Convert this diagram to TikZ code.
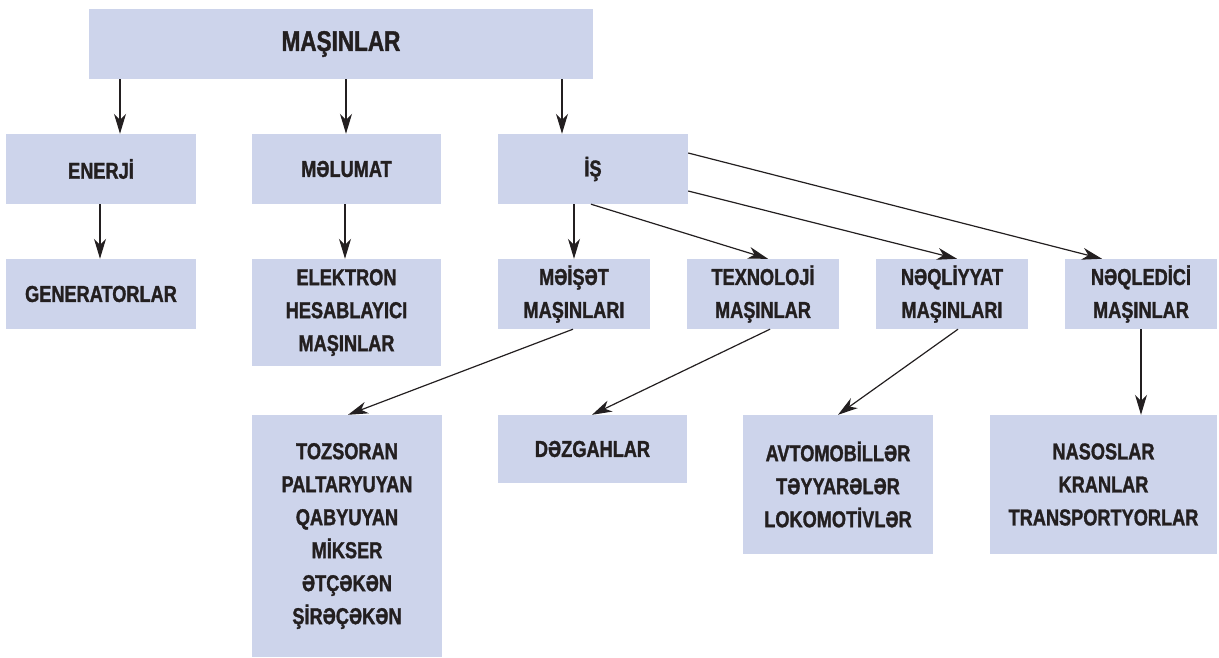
\documentclass[tikz,border=0pt]{standalone}
\usepackage{fontspec}
\setmainfont{Liberation Sans}[FakeStretch=0.79]
\newfontfamily\heavyfont{Liberation Sans}[FakeStretch=0.79,FakeBold=1.3]
\usetikzlibrary{arrows.meta}
\definecolor{boxfill}{RGB}{205,212,235}
\definecolor{ink}{RGB}{35,31,32}
\begin{document}
\begin{tikzpicture}[x=1pt,y=-1pt,
  box/.style={fill=boxfill,draw=none,inner sep=0pt,align=center,text=ink,
    font=\heavyfont\bfseries\fontsize{23}{33}\selectfont},
  arr/.style={draw=ink,line width=1.2pt,-{Stealth[length=20pt,width=12pt,inset=6pt]}}]
\useasboundingbox (0,0) rectangle (1219,658);
\node[box,minimum width=504pt,minimum height=70pt,font=\heavyfont\bfseries\fontsize{28.5}{33}\selectfont] (top) at (341,44) {MAŞINLAR};
\node[box,minimum width=190pt,minimum height=70pt] (ener) at (101,169) {ENERJİ};
\node[box,minimum width=189pt,minimum height=70pt] (melu) at (346.5,169) {MƏLUMAT};
\node[box,minimum width=190pt,minimum height=70pt] (is) at (593,169) {İŞ};
\node[box,minimum width=190pt,minimum height=70pt] (gen) at (101,294) {GENERATORLAR};
\node[box,minimum width=189pt,minimum height=107pt] (elek) at (346.5,312.5) {ELEKTRON\\HESABLAYICI\\MAŞINLAR};
\node[box,minimum width=152pt,minimum height=70pt] (meis) at (574,294) {MƏİŞƏT\\MAŞINLARI};
\node[box,minimum width=152pt,minimum height=70pt] (texn) at (763,294) {TEXNOLOJİ\\MAŞINLAR};
\node[box,minimum width=152pt,minimum height=70pt] (neql) at (952,294) {NƏQLİYYAT\\MAŞINLARI};
\node[box,minimum width=152pt,minimum height=70pt] (neqd) at (1141,294) {NƏQLEDİCİ\\MAŞINLAR};
\node[box,minimum width=190pt,minimum height=242pt] (toz) at (347,536) {TOZSORAN\\PALTARYUYAN\\QABYUYAN\\MİKSER\\ƏTÇƏKƏN\\ŞİRƏÇƏKƏN};
\node[box,minimum width=189pt,minimum height=68pt] (dez) at (592.5,449) {DƏZGAHLAR};
\node[box,minimum width=190pt,minimum height=139pt] (avto) at (838,484.5) {AVTOMOBİLLƏR\\TƏYYARƏLƏR\\LOKOMOTİVLƏR};
\node[box,minimum width=227pt,minimum height=139pt] (nas) at (1103.5,484.5) {NASOSLAR\\KRANLAR\\TRANSPORTYORLAR};
% arrows
\draw[arr] (top.south -| 120,0) -- (ener.north -| 120,0);
\draw[arr] (top.south -| 346,0) -- (melu.north -| 346,0);
\draw[arr] (top.south -| 562,0) -- (is.north -| 562,0);
\draw[arr] (ener.south -| 100,0) -- (gen.north -| 100,0);
\draw[arr] (melu.south -| 345,0) -- (elek.north -| 345,0);
\draw[arr] (is.south -| 574,0) -- (meis.north -| 574,0);
\draw[arr] (is.south -| 591,0) -- (texn.north -| 768,0);
\draw[arr] (is.east |- 0,191) -- (neql.north -| 957,0);
\draw[arr] (is.east |- 0,153) -- (neqd.north -| 1102,0);
\draw[arr] (meis.south -| 573,0) -- (toz.north -| 348,0);
\draw[arr] (texn.south -| 770,0) -- (dez.north -| 592,0);
\draw[arr] (neql.south -| 958,0) -- (avto.north -| 838,0);
\draw[arr] (neqd.south -| 1141,0) -- (nas.north -| 1141,0);
\end{tikzpicture}
\end{document}
